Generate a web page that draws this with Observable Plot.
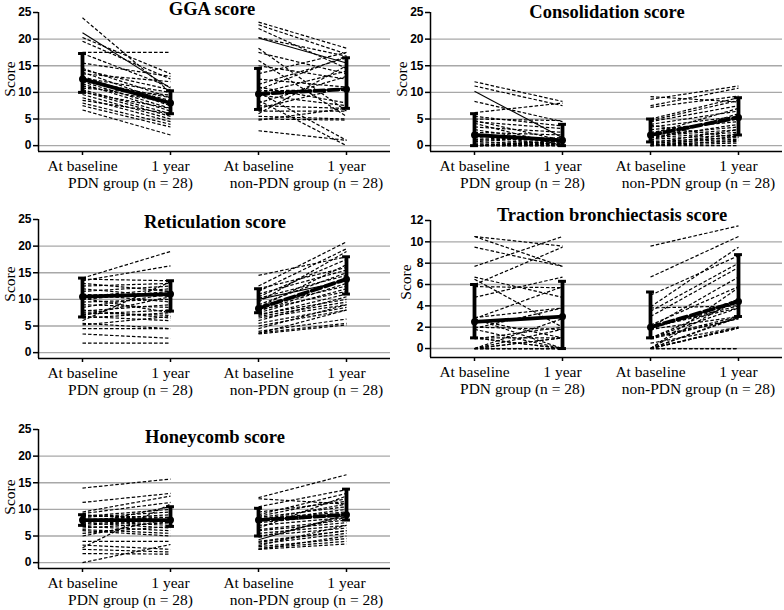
<!DOCTYPE html>
<html><head><meta charset="utf-8">
<script src="https://cdn.jsdelivr.net/npm/d3@7"></script>
<script src="https://cdn.jsdelivr.net/npm/@observablehq/plot@0.6"></script>
<style>
body{margin:0;background:#fff;width:784px;height:610px;position:relative;overflow:hidden}
.panel{position:absolute}
.title{position:absolute;font-family:"Liberation Serif",serif;font-weight:bold;font-size:18.5px;line-height:19px;white-space:nowrap;transform:translateX(-50%)}
.ylab{position:absolute;font-family:"Liberation Serif",serif;font-size:15.5px;line-height:16px;white-space:nowrap;transform:translate(-50%,-50%) rotate(-90deg)}
</style></head><body>
<script>
// ---- labels ----
const timeLabels = ["At baseline", "1 year", "At baseline", "1 year"];
const groupLabels = ["PDN group (n = 28)", "non-PDN group (n = 28)"];
const yLabel = "Score";
const positions = [0, 1, 2, 3];

// ---- GGA score: [baseline, 1 year] per patient ----
const ggaPDN = [[24.0,10.0],[21.2,10.8],[20.3,13.5],[19.6,12.5],[17.5,17.5],[17.3,11.0],[15.5,13.0],[14.5,9.0],[14.2,10.5],[13.8,8.0],[13.5,12.0],[13.0,7.5],[12.7,10.0],[12.5,8.5],[12.2,9.0],[12.0,7.0],[11.6,6.5],[11.2,8.0],[10.8,9.5],[10.5,6.0],[10.2,5.5],[10.0,7.0],[9.6,5.0],[9.0,4.5],[8.5,6.0],[8.0,4.0],[7.5,3.5],[6.7,2.0]];
const ggaNon = [[23.2,18.3],[22.7,17.2],[22.0,14.5],[20.3,16.8],[20.2,15.5],[18.3,6.5],[17.5,13.5],[16.0,5.5],[15.0,12.5],[13.5,17.5],[12.5,11.0],[11.5,16.5],[11.0,8.0],[10.5,16.8],[10.3,10.5],[10.0,1.0],[9.8,14.0],[9.5,7.5],[8.5,0.0],[8.0,13.0],[7.5,7.0],[7.0,11.0],[6.5,6.5],[6.0,15.0],[5.5,5.0],[5.0,4.8],[4.8,7.0],[2.8,1.0]];
const ggaSolid = [[1], [4]]; // indices of patients drawn with a solid thin line (PDN, non-PDN)
const ggaMedian = [12.5, 8.0, 9.7, 10.6];
const ggaLow = [10.0, 6.0, 6.8, 7.0];
const ggaHigh = [17.3, 10.3, 14.5, 16.5];

// ---- Consolidation score ----
const conPDN = [[12.0,8.3],[11.2,7.5],[10.2,1.5],[8.3,4.5],[6.2,8.0],[5.5,3.7],[5.0,4.7],[4.7,1.0],[4.5,3.2],[4.2,0.0],[3.5,2.5],[3.0,0.5],[2.5,2.0],[2.0,1.0],[2.0,0.0],[1.5,0.8],[1.2,0.3],[1.0,1.5],[0.8,0.0],[0.5,0.5],[0.3,0.0],[0.0,0.0],[0.0,0.3],[0.0,0.8],[0.0,0.0],[0.0,1.0],[0.0,0.0],[0.0,0.5]];
const conNon = [[9.2,8.2],[8.7,11.2],[7.5,10.8],[7.2,9.3],[5.0,9.0],[4.7,8.5],[4.5,7.5],[4.0,6.5],[3.5,5.5],[3.0,4.5],[2.5,5.0],[2.0,3.5],[1.8,3.0],[1.5,2.5],[1.2,2.0],[1.0,6.0],[0.8,1.5],[0.5,1.2],[0.3,2.2],[0.0,1.0],[0.0,0.5],[0.0,0.0],[1.5,4.0],[0.5,3.0],[0.0,1.8],[2.2,7.0],[0.2,0.8],[3.8,1.5]];
const conSolid = [[2], []];
const conMedian = [2.0, 1.0, 2.0, 5.3];
const conLow = [0.0, 0.0, 0.7, 2.0];
const conHigh = [6.0, 4.0, 5.0, 9.0];

// ---- Reticulation score ----
const retPDN = [[14.0,19.0],[13.5,16.3],[13.8,13.5],[13.0,11.5],[12.5,13.0],[12.0,10.5],[11.5,12.5],[11.0,9.5],[10.8,11.0],[10.5,12.0],[10.2,7.5],[10.0,11.5],[9.5,10.0],[9.0,8.5],[8.5,11.0],[8.0,6.5],[7.8,9.0],[7.5,7.0],[7.2,8.0],[7.0,10.5],[6.8,6.0],[6.5,7.5],[6.0,13.3],[5.5,4.5],[5.2,6.8],[4.5,4.5],[3.5,2.7],[1.8,1.8]];
const retNon = [[14.5,18.0],[12.5,20.8],[12.0,16.0],[11.5,19.5],[11.0,15.5],[10.5,17.5],[10.2,14.5],[10.0,13.5],[9.5,19.0],[9.0,15.0],[8.8,12.5],[8.5,16.5],[8.2,14.0],[8.0,11.5],[7.8,13.0],[7.5,12.0],[7.2,10.0],[7.0,11.0],[6.8,9.5],[6.5,9.0],[6.0,10.5],[5.5,8.5],[5.0,8.0],[4.5,9.0],[4.0,6.3],[3.7,5.5],[3.5,5.2],[3.6,8.0]];
const retSolid = [[], [7]];
const retMedian = [10.5, 11.0, 8.3, 13.8];
const retLow = [6.7, 7.8, 7.5, 11.0];
const retHigh = [14.0, 13.5, 12.0, 18.0];

// ---- Traction bronchiectasis score ----
const traPDN = [[10.5,7.7],[10.5,9.6],[9.5,7.7],[7.7,10.5],[6.7,4.8],[6.5,2.0],[6.0,9.5],[5.8,5.7],[4.8,6.7],[2.9,3.8],[2.8,5.8],[2.7,1.0],[2.5,3.0],[2.0,1.8],[1.9,3.8],[1.8,0.0],[1.0,1.0],[1.0,0.0],[0.9,2.0],[0.0,1.0],[0.0,0.0],[0.0,2.8],[0.0,0.0],[0.0,1.8],[0.0,0.0],[0.0,1.0],[2.8,0.0],[1.0,0.0]];
const traNon = [[9.6,11.5],[6.7,10.5],[5.0,8.7],[3.9,9.5],[3.8,4.0],[3.0,7.6],[2.2,5.8],[2.0,6.7],[1.8,4.6],[1.0,3.0],[0.9,2.8],[0.0,0.0],[0.0,1.9],[0.0,2.9],[0.0,4.7],[2.0,4.0],[1.0,3.8],[0.0,5.7],[3.5,8.0],[0.0,2.0],[1.8,3.0],[0.0,0.0],[1.0,4.4],[0.5,2.0],[2.0,3.8],[0.0,1.9],[1.0,2.8],[0.0,3.0]];
const traSolid = [[], []];
const traMedian = [2.5, 3.0, 2.0, 4.4];
const traLow = [1.0, 0.0, 1.0, 3.0];
const traHigh = [6.0, 6.3, 5.3, 8.8];

// ---- Honeycomb score ----
const honPDN = [[14.0,15.7],[11.3,13.0],[9.5,12.5],[9.2,11.3],[9.0,8.0],[8.7,10.0],[8.5,9.5],[8.2,7.5],[8.0,8.5],[8.0,9.0],[7.8,7.0],[7.7,8.0],[7.5,6.5],[7.2,10.5],[7.0,8.0],[6.8,6.0],[6.5,7.5],[6.2,5.5],[6.0,5.0],[5.5,6.8],[5.0,8.2],[4.0,4.0],[3.3,2.5],[2.8,11.0],[2.5,2.0],[1.7,1.6],[0.0,3.4],[8.8,8.5]];
const honNon = [[12.2,16.5],[12.0,11.0],[10.5,13.7],[9.5,11.5],[9.0,13.0],[8.7,12.0],[8.5,10.5],[8.3,9.5],[8.0,11.0],[7.8,10.0],[7.5,9.0],[7.0,8.5],[6.5,12.5],[6.2,8.0],[6.0,7.5],[5.5,7.0],[5.0,6.5],[4.3,9.0],[4.0,6.0],[3.5,5.5],[3.2,7.0],[3.0,4.5],[2.7,4.0],[2.5,3.5],[2.5,5.0],[3.8,6.0],[8.0,9.2],[4.8,8.5]];
const honSolid = [[], [17]];
const honMedian = [8.0, 8.0, 8.0, 9.0];
const honLow = [7.0, 6.8, 5.0, 8.0];
const honHigh = [9.0, 10.5, 10.2, 13.8];

const serif = "Liberation Serif, Times New Roman, serif";
const sans = "Liberation Sans, Arial, sans-serif";

function addDiv(cls, text, x, y) {
  const el = document.createElement("div");
  el.className = cls;
  el.textContent = text;
  el.style.left = x + "px";
  el.style.top = y + "px";
  document.body.appendChild(el);
}

function panel(cfg) {
  const {title, pdn, non, solid, median, lo, hi, yMax, yStep, yMin, left, top, height, plotBottom, titleX, titleTop, labelX, labelY} = cfg;
  const summary = positions.map(i => ({x: positions[i], m: median[i], lo: lo[i], hi: hi[i]}));
  const grid = d3.range(0, yMax, yStep);
  const ticks = d3.range(0, yMax + yStep / 2, yStep);
  const xDomain = [-0.5, 3.5];
  const rows = [
    ...pdn.map((d, i) => ({x1: positions[0], x2: positions[1], y1: d[0], y2: d[1], solid: solid[0].includes(i)})),
    ...non.map((d, i) => ({x1: positions[2], x2: positions[3], y1: d[0], y2: d[1], solid: solid[1].includes(i)}))
  ];
  const chart = Plot.plot({
    width: 392, height, marginLeft: 38, marginRight: 2, marginTop: 12,
    marginBottom: height - plotBottom,
    x: {type: "linear", domain: xDomain, axis: null},
    y: {domain: [yMin, yMax], axis: null},
    style: {background: "transparent", overflow: "visible"},
    marks: [
      Plot.ruleY(grid, {stroke: "#a8a8a8", strokeWidth: 1.4}),
      Plot.ruleX([xDomain[0]], {stroke: "#000", strokeWidth: 1.5}),
      Plot.ruleY([yMin], {stroke: "#000", strokeWidth: 1.5}),
      Plot.axisY({ticks, tickSize: 5, tickPadding: 2, label: null, stroke: "#000", strokeWidth: 1.5,
        fontFamily: sans, fontWeight: "bold", fontSize: 12, fill: "#000"}),
      Plot.axisX({ticks: positions, tickFormat: i => timeLabels[i], tickSize: 4, tickPadding: 4, label: null,
        stroke: "#000", strokeWidth: 1.5, fontFamily: serif, fontSize: 15.5, fill: "#000"}),
      Plot.axisX({ticks: [0.5, 2.5], tickFormat: v => groupLabels[Math.round((v - 0.5) / 2)], tickSize: 0,
        tickPadding: 2, dy: 23, dx: 4, label: null, fontFamily: serif, fontSize: 15.5, fill: "#000"}),
      Plot.link(rows.filter(d => !d.solid), {x1: "x1", x2: "x2", y1: "y1", y2: "y2", stroke: "#000", strokeWidth: 1.2, strokeDasharray: "3.5,2"}),
      Plot.link(rows.filter(d => d.solid), {x1: "x1", x2: "x2", y1: "y1", y2: "y2", stroke: "#000", strokeWidth: 1.1}),
      Plot.line(summary.slice(0, 2), {x: "x", y: "m", stroke: "#000", strokeWidth: 3.8}),
      Plot.line(summary.slice(2, 4), {x: "x", y: "m", stroke: "#000", strokeWidth: 3.8, strokeDasharray: "10,4"}),
      Plot.ruleX(summary, {x: "x", y1: "lo", y2: "hi", stroke: "#000", strokeWidth: 3.8}),
      Plot.ruleY(summary, {y: "lo", x1: d => d.x - 0.045, x2: d => d.x + 0.045, stroke: "#000", strokeWidth: 3}),
      Plot.ruleY(summary, {y: "hi", x1: d => d.x - 0.045, x2: d => d.x + 0.045, stroke: "#000", strokeWidth: 3}),
      Plot.dot(summary, {x: "x", y: "m", r: 3.5, fill: "#000"})
    ]
  });
  chart.classList.add("panel");
  chart.style.left = left + "px";
  chart.style.top = top + "px";
  document.body.appendChild(chart);
  addDiv("title", title, titleX, titleTop);
  addDiv("ylab", yLabel, left + labelX, top + labelY);
}

panel({title: "GGA score", pdn: ggaPDN, non: ggaNon, solid: ggaSolid, median: ggaMedian, lo: ggaLow, hi: ggaHigh,
  yMax: 25, yStep: 5, yMin: -1.1, left: 0, top: 0, height: 200, plotBottom: 151, titleX: 212, titleTop: 0, labelX: 10, labelY: 79});
panel({title: "Consolidation score", pdn: conPDN, non: conNon, solid: conSolid, median: conMedian, lo: conLow, hi: conHigh,
  yMax: 25, yStep: 5, yMin: -1.1, left: 392, top: 0, height: 200, plotBottom: 151, titleX: 607, titleTop: 3, labelX: 10, labelY: 79});
panel({title: "Reticulation score", pdn: retPDN, non: retNon, solid: retSolid, median: retMedian, lo: retLow, hi: retHigh,
  yMax: 25, yStep: 5, yMin: -1.1, left: 0, top: 207, height: 200, plotBottom: 151, titleX: 215, titleTop: 213, labelX: 10, labelY: 77});
panel({title: "Traction bronchiectasis score", pdn: traPDN, non: traNon, solid: traSolid, median: traMedian, lo: traLow, hi: traHigh,
  yMax: 12, yStep: 2, yMin: -0.84, left: 392, top: 208, height: 200, plotBottom: 149, titleX: 612, titleTop: 206, labelX: 14, labelY: 74});
panel({title: "Honeycomb score", pdn: honPDN, non: honNon, solid: honSolid, median: honMedian, lo: honLow, hi: honHigh,
  yMax: 25, yStep: 5, yMin: -1.1, left: 0, top: 417, height: 193, plotBottom: 151, titleX: 215, titleTop: 428, labelX: 10, labelY: 80});
</script>
</body></html>
